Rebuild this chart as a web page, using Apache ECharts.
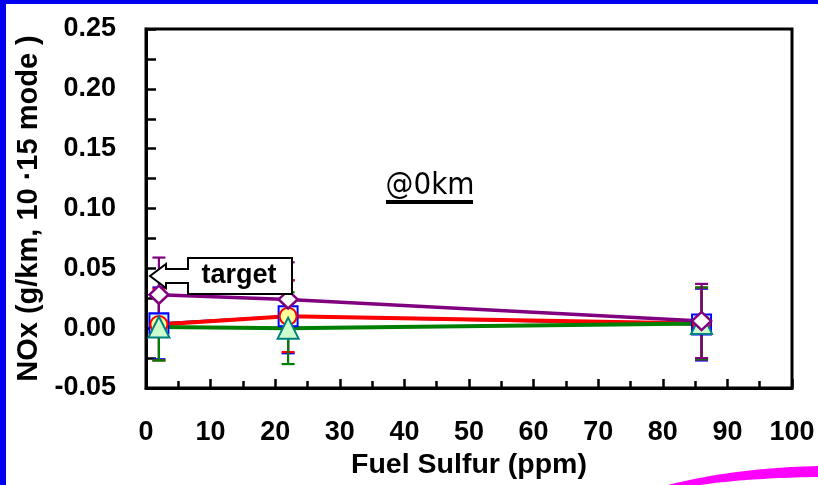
<!DOCTYPE html>
<html>
<head>
<meta charset="utf-8">
<script src="https://cdn.jsdelivr.net/npm/echarts@6/dist/echarts.min.js"></script>
<style>html,body{margin:0;padding:0;background:#fff;}#c{width:818px;height:485px;}</style>
</head>
<body>
<div id="c"></div>
<script>
// ---- data ----
const sulfur = [2, 22, 86];
const noxBlue = [0.004, 0.010, 0.003];
const blueLo = [-0.026, -0.021, -0.027];
const blueHi = [0.034, 0.040, 0.033];
const noxRed = [0.003, 0.010, 0.004];
const redLo = [-0.027, -0.020, -0.026];
const redHi = [0.033, 0.040, 0.034];
const noxGreen = [0.001, 0.000, 0.004];
const greenLo = [-0.027, -0.030, -0.026];
const greenHi = [0.030, 0.030, 0.034];
const noxPurple = [0.028, 0.024, 0.006];
const purpleLo = [-0.003, -0.007, -0.025];
const purpleHi = [0.059, 0.055, 0.037];
const xTicks = [0, 10, 20, 30, 40, 50, 60, 70, 80, 90, 100];
const yTicks = [-0.05, 0.00, 0.05, 0.10, 0.15, 0.20, 0.25];
const xName = 'Fuel Sulfur (ppm)';
const yName = 'NOx (g/km, 10 \u00b715 mode )';
const modeLabel = '@0km';
const targetLabel = 'target';

const FONT = '"Liberation Sans", Arial, sans-serif';

function pairs(ys) { return sulfur.map((x, i) => [x, ys[i]]); }

function errSeries(lo, hi, color) {
  return {
    type: 'custom',
    z: 1,
    data: sulfur.map((x, i) => [x, lo[i], hi[i]]),
    encode: { x: 0, y: [1, 2] },
    renderItem: function (params, api) {
      const x = api.value(0);
      const p1 = api.coord([x, api.value(1)]);
      const p2 = api.coord([x, api.value(2)]);
      const w = 6.5;
      const st = { stroke: color, lineWidth: 2.2 };
      return {
        type: 'group',
        children: [
          { type: 'line', shape: { x1: p1[0], y1: p1[1], x2: p2[0], y2: p2[1] }, style: st },
          { type: 'line', shape: { x1: p1[0] - w, y1: p1[1], x2: p1[0] + w, y2: p1[1] }, style: st },
          { type: 'line', shape: { x1: p2[0] - w, y1: p2[1], x2: p2[0] + w, y2: p2[1] }, style: st }
        ]
      };
    }
  };
}

function lineSeries(ys, color, width) {
  return {
    type: 'line', z: 2, data: pairs(ys), showSymbol: false, symbol: 'none',
    lineStyle: { color: color, width: width }, silent: true
  };
}

function markSeries(ys, symbol, size, fill, border, bw) {
  return {
    type: 'scatter', z: 3, data: pairs(ys), symbol: symbol, symbolSize: size,
    itemStyle: { color: fill, borderColor: border, borderWidth: bw, opacity: 1 }
  };
}

// decorative swoosh outline (quadratic curves)
function quad(p0, p1, p2, n) {
  const pts = [];
  for (let i = 0; i <= n; i++) {
    const t = i / n, u = 1 - t;
    pts.push([u * u * p0[0] + 2 * u * t * p1[0] + t * t * p2[0], u * u * p0[1] + 2 * u * t * p1[1] + t * t * p2[1]]);
  }
  return pts;
}
const swoosh = quad([668, 485], [735, 468], [818, 466], 24).concat(quad([818, 477], [748, 478], [700, 485], 24));

const chart = echarts.init(document.getElementById('c'), null, { renderer: 'canvas' });
const axisLabelStyle = { fontFamily: FONT, fontWeight: 'bold', fontSize: 27, color: '#000' };

chart.setOption({
  animation: false,
  backgroundColor: '#fff',
  grid: { left: 146, right: 26, top: 29, bottom: 96, show: true, borderColor: '#000', borderWidth: 3 },
  xAxis: {
    type: 'value', min: xTicks[0], max: xTicks[xTicks.length - 1], interval: 10,
    axisLine: { onZero: false, lineStyle: { color: '#000', width: 3 } },
    axisTick: { inside: true, length: 9, lineStyle: { color: '#000', width: 2.5 } },
    minorTick: { show: true, splitNumber: 2, length: 7, lineStyle: { color: '#000', width: 2.5 } },
    splitLine: { show: false },
    axisLabel: Object.assign({ margin: 31 }, axisLabelStyle),
    name: xName, nameLocation: 'middle', nameGap: 63,
    nameTextStyle: { fontFamily: FONT, fontWeight: 'bold', fontSize: 28.5, color: '#000' }
  },
  yAxis: {
    type: 'value', min: yTicks[0], max: yTicks[yTicks.length - 1], interval: 0.05,
    axisLine: { onZero: false, lineStyle: { color: '#000', width: 3 } },
    axisTick: { inside: true, length: 10, lineStyle: { color: '#000', width: 2.5 } },
    minorTick: { show: true, splitNumber: 2, length: 10, lineStyle: { color: '#000', width: 2.5 } },
    splitLine: { show: false },
    axisLabel: Object.assign({ margin: 30, formatter: v => v.toFixed(2) }, axisLabelStyle),
    name: yName, nameLocation: 'middle', nameGap: 99, nameRotate: 90,
    nameTextStyle: { fontFamily: FONT, fontWeight: 'bold', fontSize: 29, color: '#000' }
  },
  series: [
    errSeries(blueLo, blueHi, '#0000ff'),
    errSeries(redLo, redHi, '#ff0000'),
    errSeries(greenLo, greenHi, '#008000'),
    errSeries(purpleLo, purpleHi, '#800080'),
    lineSeries(noxBlue, '#000080', 2.5),
    lineSeries(noxRed, '#ff0000', 4),
    lineSeries(noxGreen, '#008000', 4),
    lineSeries(noxPurple, '#800080', 3.5),
    markSeries(noxBlue, 'rect', [19, 20], '#ccffff', '#0000ff', 2),
    markSeries(noxRed, 'circle', 17, '#ffff99', '#ff0000', 2),
    markSeries(noxGreen, 'triangle', [21, 21], '#ccffcc', '#008080', 2),
    markSeries(noxPurple, 'diamond', [19, 18], '#ffffff', '#800080', 2.5)
  ],
  graphic: [
    { type: 'rect', z: 100, shape: { x: 0, y: 0, width: 818, height: 4 }, style: { fill: '#0000f0' } },
    { type: 'rect', z: 100, shape: { x: 0, y: 0, width: 6, height: 485 }, style: { fill: '#0000f0' } },
    { type: 'polygon', z: 100, shape: { points: swoosh }, style: { fill: '#ff00ff' } },
    { type: 'text', z: 100, style: { text: modeLabel, x: 430, y: 186, textAlign: 'center', textVerticalAlign: 'middle', font: '31px "Liberation Sans Narrow", "DejaVu Sans Condensed", sans-serif', fill: '#000' } },
    { type: 'rect', z: 100, shape: { x: 386, y: 200, width: 87, height: 4 }, style: { fill: '#000' } },
    { type: 'polygon', z: 100, shape: { points: [[150, 276], [166, 264], [166, 269], [188, 269], [188, 258], [292, 258], [292, 294], [188, 294], [188, 283], [166, 283], [166, 288]] }, style: { fill: '#fff', stroke: '#000', lineWidth: 2 } },
    { type: 'text', z: 101, style: { text: targetLabel, x: 239, y: 276, textAlign: 'center', textVerticalAlign: 'middle', font: 'bold 27px "Liberation Sans", Arial, sans-serif', fill: '#000' } }
  ]
});
</script>
</body>
</html>
